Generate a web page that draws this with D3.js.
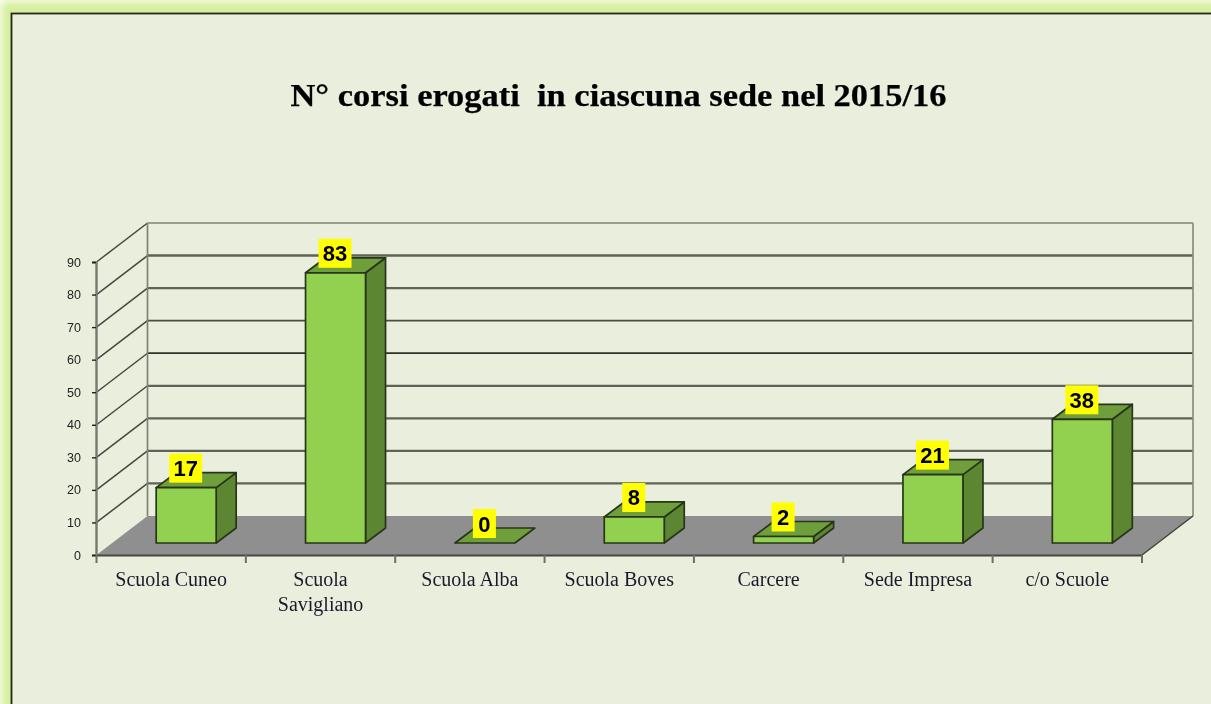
<!DOCTYPE html>
<html><head><meta charset="utf-8">
<script src="https://cdn.jsdelivr.net/npm/d3@7"></script>
<style>html,body{margin:0;padding:0;background:#fff;overflow:hidden}svg{display:block;filter:blur(0.45px)}</style>
</head><body><svg id="c" width="1211" height="704"></svg>
<script>
const chartTitle = "N° corsi erogati  in ciascuna sede nel 2015/16";
const categories = ["Scuola Cuneo","Scuola Savigliano","Scuola Alba","Scuola Boves","Carcere","Sede Impresa","c/o Scuole"];
const values = [17,83,0,8,2,21,38];
const yTicks = [0,10,20,30,40,50,60,70,80,90];
const wrapped = {"Scuola Savigliano":["Scuola","Savigliano"]};

const svg = d3.select("#c");
const defs = svg.append("defs");
defs.append("filter").attr("id","glow").attr("x","-5%").attr("y","-5%").attr("width","110%").attr("height","110%")
  .append("feGaussianBlur").attr("stdDeviation",3);
svg.append("rect").attr("width",1211).attr("height",704).attr("fill","#f6fbe8");
svg.append("rect").attr("x",2).attr("y",2).attr("width",1260).attr("height",760).attr("rx",6)
  .attr("fill","#d6f0a0").attr("filter","url(#glow)");
svg.append("rect").attr("x",11.5).attr("y",13.5).attr("width",1260).attr("height",760)
  .attr("fill","#eaeedd").attr("stroke","#23271c").attr("stroke-width",1.8);

svg.append("text").attr("x",618.5).attr("y",105.5).attr("text-anchor","middle")
  .style("white-space","pre").attr("font-family","'Liberation Serif',serif").attr("font-weight","bold")
  .attr("font-size",32).attr("fill","#000").attr("stroke","#000").attr("stroke-width",0.25)
  .attr("textLength",656).attr("lengthAdjust","spacingAndGlyphs").text(chartTitle);

const DX=51, DY=-39;
const y = d3.scaleLinear().domain([0,90]).range([555,262]);
const x = d3.scaleBand().domain(categories).range([96.5,1142]);
const x0 = x.range()[0], x1 = x.range()[1];

// walls
const wall = svg.append("g").attr("fill","none");
yTicks.forEach(v=>{
  const yy=y(v);
  if(v>0){
    wall.append("line").attr("x1",x0).attr("y1",yy).attr("x2",x0+DX).attr("y2",yy+DY).attr("stroke","#45493d").attr("stroke-width",1.5);
    wall.append("line").attr("x1",x0+DX).attr("y1",yy+DY).attr("x2",x1+DX).attr("y2",yy+DY)
      .attr("stroke",v===50?"#2e3228":v===90?"#808378":v===60?"#4a4e42":"#5f6357")
      .attr("stroke-width",v===90?1.5:v===80?2.6:v===50||v===60?1.7:2.2);
  }
});
wall.append("line").attr("x1",x0+DX).attr("y1",y(0)+DY).attr("x2",x0+DX).attr("y2",y(90)+DY).attr("stroke","#808378").attr("stroke-width",1.7);
wall.append("line").attr("x1",x1+DX).attr("y1",y(0)+DY).attr("x2",x1+DX).attr("y2",y(90)+DY).attr("stroke","#8a8d82").attr("stroke-width",1.7);

// floor
svg.append("path").attr("fill","#8f8f8f")
  .attr("d",d3.line()([[x0,y(0)],[x0+DX,y(0)+DY],[x1+DX,y(0)+DY],[x1,y(0)]])+"Z");
svg.append("line").attr("x1",x1).attr("y1",y(0)).attr("x2",x1+DX).attr("y2",y(0)+DY).attr("stroke","#3f4338").attr("stroke-width",1.4);

// bars
const BW=60, BDX=20, BDY=-15, OX=15, OY=-12;
const stroke="#28351a";
const bars = svg.append("g").selectAll("g").data(categories.map((c,i)=>({c,v:values[i]}))).join("g");
bars.each(function(d){
  const g=d3.select(this);
  const L=x(d.c)+x.bandwidth()/2-BW/2+OX, R=L+BW, B=y(0)+OY, T=B-(y(0)-y(d.v));
  const poly=(p,f)=>g.append("path").attr("d",d3.line()(p)+"Z").attr("fill",f).attr("stroke",stroke).attr("stroke-width",1.7).attr("stroke-linejoin","round");
  if(d.v>0) poly([[R,B],[R+BDX,B+BDY],[R+BDX,T+BDY],[R,T]],"#5d8632");
  poly([[L,T],[L+BDX,T+BDY],[R+BDX,T+BDY],[R,T]],"#6f9f3b");
  if(d.v>0) poly([[L,B],[L,T],[R,T],[R,B]],"#92d14f");
  const w=String(d.v).length>1?33:23, cx=(L+R)/2-0.5;
  g.append("rect").attr("x",cx-w/2).attr("y",T-34).attr("width",w).attr("height",29).attr("fill","#ffff00");
  g.append("text").attr("x",cx).attr("y",T-11.5).attr("text-anchor","middle").attr("font-family","'Liberation Sans',Arial,sans-serif")
    .attr("font-weight","bold").attr("font-size",22).attr("fill","#000").text(d.v);
});

// y axis
const ya = svg.append("g").attr("transform",`translate(${x0-0.5},0)`).call(d3.axisLeft(y).tickValues(yTicks).tickSize(4).tickPadding(11));
ya.select(".domain").attr("stroke","#77796f").attr("stroke-width",2.4);
ya.selectAll(".tick line").attr("stroke","#222").attr("stroke-width",1.4);
ya.selectAll("text").attr("font-family","'Liberation Sans',Arial,sans-serif").attr("font-size",12.5).attr("fill","#222");

// x axis
const xa = svg.append("g").attr("transform",`translate(0,${y(0)})`).call(d3.axisBottom(x).tickSize(0).tickPadding(0));
xa.select(".domain").attr("stroke","#44483c").attr("stroke-width",1.8);
xa.selectAll(".tick text").each(function(c){
  const t=d3.select(this).text(null).attr("font-family","'Liberation Serif',serif").attr("font-size",20).attr("fill","#1a1a2a").attr("y",0).attr("dy",null);
  (wrapped[c]||[c]).forEach((s,i)=>t.append("tspan").attr("x",0).attr("y",31+i*24.5).text(s));
});
svg.append("g").selectAll("line").data(categories.concat(["end"])).join("line")
  .attr("x1",(d,i)=>i<categories.length?x(d):x1).attr("x2",(d,i)=>i<categories.length?x(d):x1)
  .attr("y1",y(0)).attr("y2",y(0)+8).attr("stroke","#6c6f64").attr("stroke-width",2);
</script></body></html>
